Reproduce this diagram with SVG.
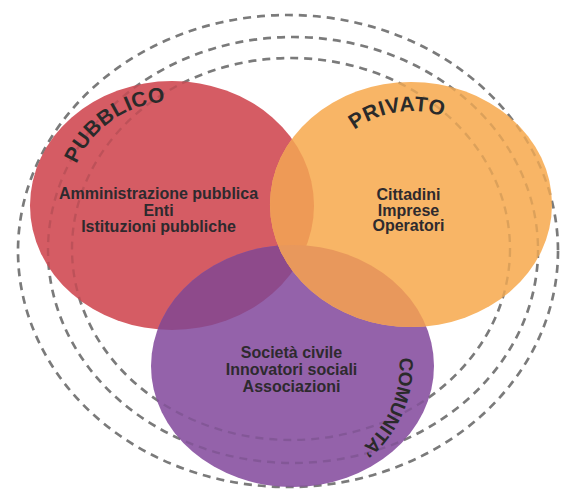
<svg xmlns="http://www.w3.org/2000/svg" width="566" height="489" viewBox="0 0 566 489">
<style>
.dash{fill:none;stroke:#8a8a8a;stroke-width:2.7;stroke-dasharray:8 6}
.dashover{fill:none;stroke:#000;stroke-opacity:0.11;stroke-width:2.4;stroke-dasharray:8 6}
.body{font-family:"Liberation Sans",Arial,sans-serif;font-weight:bold;font-size:16px;fill:#2e2a2e;text-anchor:middle}
.arc{font-family:"Liberation Sans",Arial,sans-serif;font-weight:bold;font-size:21px;fill:#2a2a2a;text-anchor:middle}
</style>
<defs>
<clipPath id="clipRed"><ellipse cx="172" cy="205.5" rx="142" ry="124.5"/></clipPath>
<clipPath id="clipPurple"><ellipse cx="292.5" cy="366" rx="141.5" ry="121"/></clipPath>
<path id="arcPub" d="M68.4,214.6 A104,104 0 0 1 215.95,111.24"/>
<path id="arcPriv" d="M323.95,170.38 A93.5,93.5 0 0 1 484.07,146.17"/>
<path id="arcCom" d="M377.95,301.61 A107,107 0 0 1 305.54,472.2"/>
</defs>
<rect width="566" height="489" fill="#ffffff"/>
<g id="rings">
<ellipse class="dash" cx="288" cy="251" rx="270" ry="236"/>
<ellipse class="dash" cx="293" cy="250" rx="245" ry="213"/>
<ellipse class="dash" cx="291" cy="249" rx="219" ry="191"/>
</g>
<g id="pubblico">
<ellipse cx="172" cy="205.5" rx="142" ry="124.5" fill="#D55C64"/>
</g>
<g id="comunita">
<ellipse cx="292.5" cy="366" rx="141.5" ry="121" fill="#9462AA"/>
<ellipse cx="292.5" cy="366" rx="141.5" ry="121" fill="#8E4A8B" clip-path="url(#clipRed)"/>
</g>
<g id="privato">
<ellipse cx="411" cy="204.5" rx="141" ry="122.5" fill="#F8B566"/>
<ellipse cx="411" cy="204.5" rx="141" ry="122.5" fill="#EE9A56" clip-path="url(#clipRed)"/>
<ellipse cx="411" cy="204.5" rx="141" ry="122.5" fill="#E8985C" clip-path="url(#clipPurple)"/>
</g>
<g id="rings-over">
<ellipse class="dashover" cx="288" cy="251" rx="270" ry="236"/>
<ellipse class="dashover" cx="293" cy="250" rx="245" ry="213"/>
<ellipse class="dashover" cx="291" cy="249" rx="219" ry="191"/>
</g>
<g id="labels">
<text class="arc" letter-spacing="0.6"><textPath href="#arcPub" startOffset="50%">PUBBLICO</textPath></text>
<text class="arc" letter-spacing="0.5"><textPath href="#arcPriv" startOffset="50%">PRIVATO</textPath></text>
<text class="arc" style="font-size:19px" letter-spacing="-0.3"><textPath href="#arcCom" startOffset="50%">COMUNITA’</textPath></text>
<text class="body" x="158.5" y="199">Amministrazione pubblica</text>
<text class="body" x="158.5" y="215.5">Enti</text>
<text class="body" x="158.5" y="232">Istituzioni pubbliche</text>
<text class="body" x="408.5" y="200">Cittadini</text>
<text class="body" x="408.5" y="215.5">Imprese</text>
<text class="body" x="408.5" y="231">Operatori</text>
<text class="body" x="291.5" y="358">Società civile</text>
<text class="body" x="291.5" y="375">Innovatori sociali</text>
<text class="body" x="291.5" y="392">Associazioni</text>
</g>
</svg>
